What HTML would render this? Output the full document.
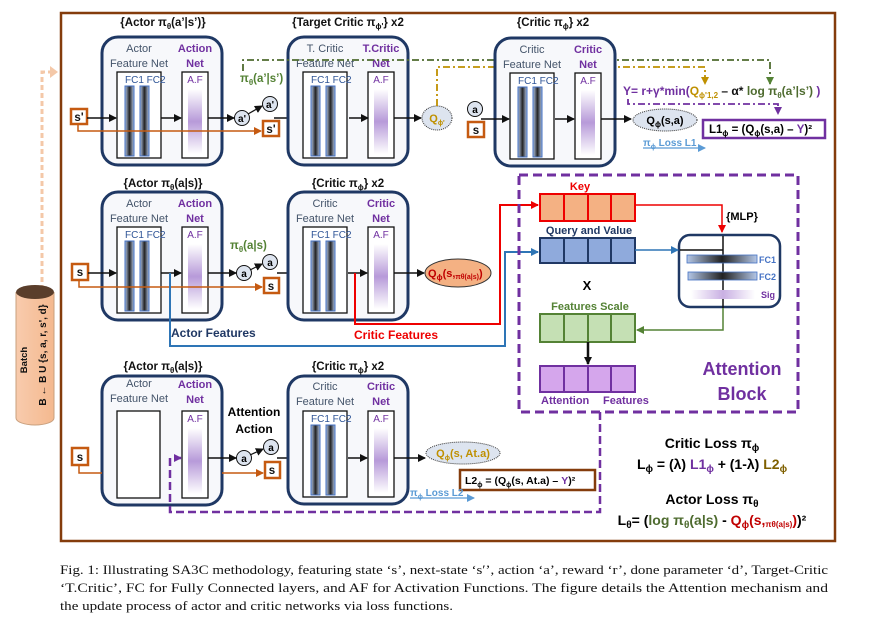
<!DOCTYPE html>
<html><head><meta charset="utf-8"><style>
html,body{margin:0;padding:0;background:#fff;width:870px;height:623px;overflow:hidden}
svg{display:block}
text{font-family:"Liberation Sans",sans-serif;font-weight:bold}
.t{font-size:11.5px;fill:#111}
.g{font-size:11px;fill:#44546a;font-weight:normal}
.p{font-size:11px;fill:#7030a0}
.fc{font-size:10px;fill:#2f5597;font-weight:normal}
.af{font-size:10px;fill:#7030a0;font-weight:normal}
.cap{font-family:"Liberation Serif",serif;font-weight:normal;font-size:13px;fill:#111}
</style></head><body>
<svg width="870" height="623" viewBox="0 0 870 623" xmlns="http://www.w3.org/2000/svg">
<defs>
<linearGradient id="fcg" x1="0" x2="1" y1="0" y2="0"><stop offset="0" stop-color="#b4c7e7"/><stop offset="0.5" stop-color="#222"/><stop offset="1" stop-color="#b4c7e7"/></linearGradient>
<linearGradient id="afg" x1="0" x2="0" y1="0" y2="1"><stop offset="0" stop-color="#fff"/><stop offset="0.5" stop-color="#b79ad9"/><stop offset="1" stop-color="#fff"/></linearGradient>
<linearGradient id="hb" x1="0" x2="1"><stop offset="0" stop-color="#b4c7e7"/><stop offset="0.5" stop-color="#222"/><stop offset="1" stop-color="#b4c7e7"/></linearGradient>
<linearGradient id="sg" x1="0" x2="1"><stop offset="0" stop-color="#fff"/><stop offset="0.5" stop-color="#c9b0e3"/><stop offset="1" stop-color="#fff"/></linearGradient>
<linearGradient id="cyl" x1="0" x2="1"><stop offset="0" stop-color="#f8cbad"/><stop offset="1" stop-color="#f4b98f"/></linearGradient>
<marker id="ab" markerWidth="8" markerHeight="8" refX="7" refY="4" orient="auto" markerUnits="userSpaceOnUse"><path d="M0,0 L8,4 L0,8z" fill="#111"/></marker>
<marker id="ao" markerWidth="8" markerHeight="8" refX="7" refY="4" orient="auto" markerUnits="userSpaceOnUse"><path d="M0,0 L8,4 L0,8z" fill="#c55a11"/></marker>
<marker id="ar" markerWidth="8" markerHeight="8" refX="7" refY="4" orient="auto" markerUnits="userSpaceOnUse"><path d="M0,0 L8,4 L0,8z" fill="#e00"/></marker>
<marker id="abl" markerWidth="8" markerHeight="8" refX="7" refY="4" orient="auto" markerUnits="userSpaceOnUse"><path d="M0,0 L8,4 L0,8z" fill="#2e75b6"/></marker>
<marker id="ag" markerWidth="8" markerHeight="8" refX="7" refY="4" orient="auto" markerUnits="userSpaceOnUse"><path d="M0,0 L8,4 L0,8z" fill="#548235"/></marker>
<marker id="ay" markerWidth="8" markerHeight="8" refX="7" refY="4" orient="auto" markerUnits="userSpaceOnUse"><path d="M0,0 L8,4 L0,8z" fill="#bf9000"/></marker>
<marker id="ap" markerWidth="8" markerHeight="8" refX="7" refY="4" orient="auto" markerUnits="userSpaceOnUse"><path d="M0,0 L8,4 L0,8z" fill="#7030a0"/></marker>
<marker id="alb" markerWidth="8" markerHeight="8" refX="7" refY="4" orient="auto" markerUnits="userSpaceOnUse"><path d="M0,0 L8,4 L0,8z" fill="#5b9bd5"/></marker>
<g id="bars">
<rect x="23" y="49" width="9" height="70" fill="url(#fcg)" stroke="#4472c4" stroke-width="1"/>
<rect x="38" y="49" width="9" height="70" fill="url(#fcg)" stroke="#4472c4" stroke-width="1"/>
</g>
<g id="shell">
<rect x="0" y="0" width="120" height="128" rx="16" fill="#f7f8fb" stroke="#1f3864" stroke-width="3"/>
<rect x="15" y="35" width="44" height="86" fill="#fff" stroke="#111" stroke-width="1.3"/>
<rect x="80" y="35" width="26" height="86" fill="#fff" stroke="#111" stroke-width="1.3"/>
<rect x="86" y="52" width="14" height="65" fill="url(#afg)"/>
<text x="93" y="46" class="af" text-anchor="middle">A.F</text>
</g>
</defs>

<rect x="61" y="13" width="774" height="528" fill="#fff" stroke="#843c0c" stroke-width="2.5"/>

<path d="M42,290 V72 H55" fill="none" stroke="#f4c8a8" stroke-width="3" stroke-dasharray="5,3"/>
<path d="M50,66 L58,72 L50,78z" fill="#f4c8a8"/>
<path d="M16,292 L16,418 A19,7 0 0 0 54,418 L54,292" fill="url(#cyl)" stroke="#c9a07e"/>
<ellipse cx="35" cy="292" rx="19" ry="7" fill="#5a3e2b"/>
<text transform="translate(27,360) rotate(-90)" font-size="9.5" text-anchor="middle" fill="#111">Batch</text>
<text transform="translate(46,355) rotate(-90)" font-size="10" text-anchor="middle" fill="#111">B ← B U {s, a, r, s', d}</text>

<!-- Row 1 -->
<text x="163" y="26" class="t" text-anchor="middle">{Actor π<tspan font-size="8" dy="3">θ</tspan><tspan dy="-3">(a’|s’)}</tspan></text>
<g transform="translate(102,37)"><use href="#shell"/><use href="#bars"/>
<text x="37" y="15" class="g" text-anchor="middle">Actor</text><text x="37" y="30" class="g" text-anchor="middle">Feature Net</text>
<text x="93" y="15" class="p" text-anchor="middle">Action</text><text x="93" y="30" class="p" text-anchor="middle">Net</text>
<text x="23" y="46" class="fc">FC1 FC2</text></g>
<rect x="71" y="109" width="16" height="15" fill="#fff" stroke="#c55a11" stroke-width="2.5"/><text x="79" y="121" class="t" text-anchor="middle">s'</text>
<line x1="87" y1="118" x2="116" y2="118" stroke="#111" stroke-width="1.5" marker-end="url(#ab)"/>
<line x1="161" y1="118" x2="181" y2="118" stroke="#111" stroke-width="1.5" marker-end="url(#ab)"/>
<line x1="208" y1="118" x2="234" y2="118" stroke="#111" stroke-width="1.5" marker-end="url(#ab)"/>
<path d="M78,124 V131 H222 M222,131 H261" fill="none" stroke="#c55a11" stroke-width="1.5" marker-end="url(#ao)"/>
<circle cx="242" cy="118" r="7.5" fill="#dde4ef" stroke="#111"/><text x="242" y="122" font-size="10" text-anchor="middle">a'</text>
<circle cx="270" cy="104" r="7.5" fill="#dde4ef" stroke="#111"/><text x="270" y="108" font-size="10" text-anchor="middle">a'</text>
<line x1="248" y1="114" x2="262" y2="106" stroke="#111" stroke-width="1.2" marker-end="url(#ab)"/>
<rect x="263" y="121" width="16" height="15" fill="#fff" stroke="#c55a11" stroke-width="2.5"/><text x="271" y="133" class="t" text-anchor="middle">s'</text>
<text x="240" y="82" font-size="11.5" fill="#548235">π<tspan font-size="8" dy="3">θ</tspan><tspan dy="-3">(a’|s’)</tspan></text>
<line x1="274" y1="118" x2="302" y2="118" stroke="#111" stroke-width="1.5" marker-end="url(#ab)"/>

<text x="348" y="26" class="t" text-anchor="middle">{Target Critic π<tspan font-size="8" dy="3">ϕ'</tspan><tspan dy="-3">} x2</tspan></text>
<g transform="translate(288,37)"><use href="#shell"/><use href="#bars"/>
<text x="37" y="15" class="g" text-anchor="middle">T. Critic</text><text x="37" y="30" class="g" text-anchor="middle">Feature Net</text>
<text x="93" y="15" class="p" text-anchor="middle">T.Critic</text><text x="93" y="30" class="p" text-anchor="middle">Net</text>
<text x="23" y="46" class="fc">FC1 FC2</text></g>
<line x1="349" y1="118" x2="368" y2="118" stroke="#111" stroke-width="1.5" marker-end="url(#ab)"/>
<line x1="394" y1="118" x2="421" y2="118" stroke="#111" stroke-width="1.5" marker-end="url(#ab)"/>
<ellipse cx="437" cy="118" rx="15" ry="12" fill="#dde4ef" stroke="#333" stroke-dasharray="1,1"/>
<text x="437" y="122" font-size="11" fill="#bf9000" text-anchor="middle">Q<tspan font-size="7" dy="3">ϕ'</tspan></text>
<path d="M243,71 V60 H770 V84" fill="none" stroke="#4e6b2f" stroke-width="1.8" stroke-dasharray="7,3,2,3" marker-end="url(#ag)"/>
<path d="M437,106 V67 H705 V84" fill="none" stroke="#bf9000" stroke-width="1.8" stroke-dasharray="7,3,2,3" marker-end="url(#ay)"/>

<circle cx="475" cy="109" r="7.5" fill="#dde4ef" stroke="#111"/><text x="475" y="113" font-size="10" text-anchor="middle">a</text>
<rect x="468" y="122" width="16" height="15" fill="#fff" stroke="#c55a11" stroke-width="2.5"/><text x="476" y="134" class="t" text-anchor="middle">s</text>
<text x="553" y="26" class="t" text-anchor="middle">{Critic π<tspan font-size="8" dy="3">ϕ</tspan><tspan dy="-3">} x2</tspan></text>
<g transform="translate(495,38)"><use href="#shell"/><use href="#bars"/>
<text x="37" y="15" class="g" text-anchor="middle">Critic</text><text x="37" y="30" class="g" text-anchor="middle">Feature Net</text>
<text x="93" y="15" class="p" text-anchor="middle">Critic</text><text x="93" y="30" class="p" text-anchor="middle">Net</text>
<text x="23" y="46" class="fc">FC1 FC2</text></g>
<line x1="481" y1="119" x2="509" y2="119" stroke="#111" stroke-width="1.5" marker-end="url(#ab)"/>
<line x1="555" y1="119" x2="574" y2="119" stroke="#111" stroke-width="1.5" marker-end="url(#ab)"/>
<line x1="601" y1="119" x2="631" y2="119" stroke="#111" stroke-width="1.5" marker-end="url(#ab)"/>
<ellipse cx="665" cy="120" rx="32" ry="11" fill="#dde4ef" stroke="#333" stroke-dasharray="1,1"/>
<text x="665" y="124" font-size="11" text-anchor="middle">Q<tspan font-size="8" dy="3">ϕ</tspan><tspan dy="-3">(s,a)</tspan></text>
<text x="623" y="95" font-size="12" fill="#7030a0">Y= r+γ*min(<tspan fill="#bf9000">Q<tspan font-size="8" dy="3">ϕ'1,2</tspan></tspan><tspan dy="-3" fill="#111"> – α* </tspan><tspan fill="#4e6b2f">log π<tspan font-size="8" dy="3">θ</tspan><tspan dy="-3">(a’|s’)</tspan></tspan> )</text>
<path d="M628,99 V104 H778 V114" fill="none" stroke="#7030a0" stroke-width="1.8" stroke-dasharray="7,3,2,3" marker-end="url(#ap)"/>
<rect x="703" y="120" width="122" height="18" fill="#fff" stroke="#7030a0" stroke-width="2.5"/>
<text x="709" y="133" font-size="11.5">L1<tspan font-size="8" dy="3">ϕ</tspan><tspan dy="-3"> = (Q</tspan><tspan font-size="8" dy="3">ϕ</tspan><tspan dy="-3">(s,a) – </tspan><tspan fill="#7030a0">Y</tspan>)²</text>
<text x="643" y="146" font-size="10" fill="#5b9bd5">π<tspan font-size="7" dy="3">ϕ</tspan><tspan dy="-3"> Loss L1</tspan></text>
<line x1="643" y1="148" x2="705" y2="148" stroke="#5b9bd5" stroke-width="1.2" marker-end="url(#alb)"/>

<!-- Row 2 -->
<text x="163" y="187" class="t" text-anchor="middle">{Actor π<tspan font-size="8" dy="3">θ</tspan><tspan dy="-3">(a|s)}</tspan></text>
<g transform="translate(102,192)"><use href="#shell"/><use href="#bars"/>
<text x="37" y="15" class="g" text-anchor="middle">Actor</text><text x="37" y="30" class="g" text-anchor="middle">Feature Net</text>
<text x="93" y="15" class="p" text-anchor="middle">Action</text><text x="93" y="30" class="p" text-anchor="middle">Net</text>
<text x="23" y="46" class="fc">FC1 FC2</text></g>
<rect x="72" y="264" width="16" height="16" fill="#fff" stroke="#c55a11" stroke-width="2.5"/><text x="80" y="276" class="t" text-anchor="middle">s</text>
<line x1="88" y1="273" x2="116" y2="273" stroke="#111" stroke-width="1.5" marker-end="url(#ab)"/>
<line x1="161" y1="273" x2="181" y2="273" stroke="#111" stroke-width="1.5" marker-end="url(#ab)"/>
<line x1="208" y1="273" x2="236" y2="273" stroke="#111" stroke-width="1.5" marker-end="url(#ab)"/>
<path d="M79,280 V287 H222 M222,287 H262" fill="none" stroke="#c55a11" stroke-width="1.5" marker-end="url(#ao)"/>
<circle cx="244" cy="273" r="7.5" fill="#dde4ef" stroke="#111"/><text x="244" y="277" font-size="10" text-anchor="middle">a</text>
<circle cx="270" cy="262" r="7.5" fill="#dde4ef" stroke="#111"/><text x="270" y="266" font-size="10" text-anchor="middle">a</text>
<line x1="250" y1="270" x2="262" y2="264" stroke="#111" stroke-width="1.2" marker-end="url(#ab)"/>
<rect x="264" y="278" width="15" height="15" fill="#fff" stroke="#c55a11" stroke-width="2.5"/><text x="271" y="290" class="t" text-anchor="middle">s</text>
<text x="230" y="249" font-size="11.5" fill="#548235">π<tspan font-size="8" dy="3">θ</tspan><tspan dy="-3">(a|s)</tspan></text>
<line x1="277" y1="273" x2="302" y2="273" stroke="#111" stroke-width="1.5" marker-end="url(#ab)"/>
<text x="348" y="187" class="t" text-anchor="middle">{Critic π<tspan font-size="8" dy="3">ϕ</tspan><tspan dy="-3">} x2</tspan></text>
<g transform="translate(288,192)"><use href="#shell"/><use href="#bars"/>
<text x="37" y="15" class="g" text-anchor="middle">Critic</text><text x="37" y="30" class="g" text-anchor="middle">Feature Net</text>
<text x="93" y="15" class="p" text-anchor="middle">Critic</text><text x="93" y="30" class="p" text-anchor="middle">Net</text>
<text x="23" y="46" class="fc">FC1 FC2</text></g>
<line x1="348" y1="273" x2="367" y2="273" stroke="#111" stroke-width="1.5" marker-end="url(#ab)"/>
<line x1="394" y1="273" x2="424" y2="273" stroke="#111" stroke-width="1.5" marker-end="url(#ab)"/>
<ellipse cx="458" cy="273" rx="33" ry="14" fill="#f4b183" stroke="#333"/>
<text x="428" y="277" font-size="11" fill="#c00000">Q<tspan font-size="8" dy="3">ϕ</tspan><tspan dy="-3">(s,</tspan><tspan font-size="7" dy="2">πθ(a|s)</tspan><tspan dy="-2">)</tspan></text>
<path d="M170,273 V346 H505 V252 H538" fill="none" stroke="#2e75b6" stroke-width="2" marker-end="url(#abl)"/>
<path d="M355,273 V324 H500 V205 H538" fill="none" stroke="#e00" stroke-width="2" marker-end="url(#ar)"/>
<text x="171" y="337" font-size="12" fill="#203864">Actor Features</text>
<text x="354" y="339" font-size="12" fill="#e00">Critic Features</text>

<!-- Attention block -->
<rect x="519" y="175" width="279" height="237" fill="none" stroke="#7030a0" stroke-width="3" stroke-dasharray="9,5"/>
<text x="580" y="190" font-size="11" fill="#e00" text-anchor="middle">Key</text>
<g stroke="#e00" stroke-width="2" fill="#f4b183"><rect x="540" y="194" width="95" height="27"/><line x1="564" y1="194" x2="564" y2="221"/><line x1="588" y1="194" x2="588" y2="221"/><line x1="611" y1="194" x2="611" y2="221"/></g>
<text x="589" y="234" font-size="11" fill="#203864" font-weight="normal" text-anchor="middle">Query and Value</text>
<g stroke="#203864" stroke-width="2" fill="#8faadc"><rect x="540" y="238" width="95" height="25"/><line x1="564" y1="238" x2="564" y2="263"/><line x1="588" y1="238" x2="588" y2="263"/><line x1="611" y1="238" x2="611" y2="263"/></g>
<path d="M635,205 H722 V232" fill="none" stroke="#e00" stroke-width="1.5" marker-end="url(#ar)"/>
<text x="742" y="220" font-size="11" font-weight="normal" text-anchor="middle">{MLP}</text>
<rect x="679" y="235" width="101" height="72" rx="11" fill="#fff" stroke="#1f3864" stroke-width="2.5"/>
<line x1="635" y1="250" x2="678" y2="250" stroke="#2e75b6" stroke-width="1.5" marker-end="url(#abl)"/>
<line x1="680" y1="250" x2="723" y2="250" stroke="#111" stroke-width="1.5"/>
<line x1="723" y1="236" x2="723" y2="308" stroke="#111" stroke-width="1.5"/>
<rect x="687" y="255" width="70" height="8" fill="url(#hb)" stroke="#4472c4" stroke-width="0.8"/>
<rect x="688" y="272" width="69" height="8" fill="url(#hb)" stroke="#4472c4" stroke-width="0.8"/>
<rect x="691" y="290" width="64" height="9" fill="url(#sg)"/>
<text x="759" y="263" font-size="9" fill="#4472c4" font-weight="normal">FC1</text>
<text x="759" y="280" font-size="9" fill="#4472c4" font-weight="normal">FC2</text>
<text x="761" y="298" font-size="9" fill="#7030a0">Sig</text>
<path d="M723,308 V330 H637" fill="none" stroke="#548235" stroke-width="1.5" marker-end="url(#ag)"/>
<text x="587" y="290" font-size="13" text-anchor="middle">X</text>
<text x="590" y="310" font-size="11" fill="#548235" font-weight="normal" text-anchor="middle">Features Scale</text>
<g stroke="#548235" stroke-width="2" fill="#c5e0b4"><rect x="540" y="314" width="95" height="28"/><line x1="564" y1="314" x2="564" y2="342"/><line x1="588" y1="314" x2="588" y2="342"/><line x1="611" y1="314" x2="611" y2="342"/></g>
<line x1="588" y1="342" x2="588" y2="364" stroke="#111" stroke-width="2.5" marker-end="url(#ab)"/>
<g stroke="#7030a0" stroke-width="2" fill="#d5a6ec"><rect x="540" y="366" width="95" height="26"/><line x1="564" y1="366" x2="564" y2="392"/><line x1="588" y1="366" x2="588" y2="392"/><line x1="611" y1="366" x2="611" y2="392"/></g>
<text x="541" y="404" font-size="11" fill="#7030a0" font-weight="normal">Attention</text>
<text x="603" y="404" font-size="11" fill="#7030a0" font-weight="normal">Features</text>
<text x="742" y="375" font-size="18" fill="#7030a0" font-weight="normal" text-anchor="middle">Attention</text>
<text x="742" y="400" font-size="18" fill="#7030a0" font-weight="normal" text-anchor="middle">Block</text>

<!-- Row 3 -->
<text x="163" y="370" class="t" text-anchor="middle">{Actor π<tspan font-size="8" dy="3">θ</tspan><tspan dy="-3">(a|s)}</tspan></text>
<g transform="translate(102,376)">
<rect x="0" y="0" width="120" height="129" rx="16" fill="#f7f8fb" stroke="#1f3864" stroke-width="3"/>
<rect x="15" y="35" width="43" height="87" fill="#fff" stroke="#111" stroke-width="1.3"/>
<rect x="80" y="35" width="26" height="87" fill="#fff" stroke="#111" stroke-width="1.3"/>
<rect x="86" y="52" width="14" height="66" fill="url(#afg)"/>
<text x="93" y="46" class="af" text-anchor="middle">A.F</text>
<text x="37" y="11" class="g" text-anchor="middle">Actor</text><text x="37" y="26" class="g" text-anchor="middle">Feature Net</text>
<text x="93" y="12" class="p" text-anchor="middle">Action</text><text x="93" y="27" class="p" text-anchor="middle">Net</text></g>
<rect x="72" y="448" width="16" height="17" fill="#fff" stroke="#c55a11" stroke-width="2.5"/><text x="80" y="461" class="t" text-anchor="middle">s</text>
<path d="M79,465 V473 H102" fill="none" stroke="#c55a11" stroke-width="1.5"/>
<path d="M222,473 H263" fill="none" stroke="#c55a11" stroke-width="1.5" marker-end="url(#ao)"/>
<path d="M600,412 V512 H170 V458 H181" fill="none" stroke="#7030a0" stroke-width="2.5" stroke-dasharray="8,4" marker-end="url(#ap)"/>
<line x1="208" y1="458" x2="236" y2="458" stroke="#111" stroke-width="1.5" marker-end="url(#ab)"/>
<text x="254" y="416" font-size="12" text-anchor="middle">Attention</text>
<text x="254" y="433" font-size="12" text-anchor="middle">Action</text>
<circle cx="244" cy="458" r="7.5" fill="#dde4ef" stroke="#111"/><text x="244" y="462" font-size="10" text-anchor="middle">a</text>
<circle cx="271" cy="447" r="7.5" fill="#dde4ef" stroke="#111"/><text x="271" y="451" font-size="10" text-anchor="middle">a</text>
<line x1="250" y1="455" x2="263" y2="449" stroke="#111" stroke-width="1.2" marker-end="url(#ab)"/>
<rect x="265" y="462" width="15" height="16" fill="#fff" stroke="#c55a11" stroke-width="2.5"/><text x="272" y="474" class="t" text-anchor="middle">s</text>
<line x1="277" y1="458" x2="302" y2="458" stroke="#111" stroke-width="1.5" marker-end="url(#ab)"/>
<text x="348" y="370" class="t" text-anchor="middle">{Critic π<tspan font-size="8" dy="3">ϕ</tspan><tspan dy="-3">} x2</tspan></text>
<g transform="translate(288,376)"><use href="#shell"/><use href="#bars"/>
<text x="37" y="14" class="g" text-anchor="middle">Critic</text><text x="37" y="29" class="g" text-anchor="middle">Feature Net</text>
<text x="93" y="14" class="p" text-anchor="middle">Critic</text><text x="93" y="29" class="p" text-anchor="middle">Net</text>
<text x="23" y="46" class="fc">FC1 FC2</text></g>
<line x1="348" y1="458" x2="367" y2="458" stroke="#111" stroke-width="1.5" marker-end="url(#ab)"/>
<line x1="394" y1="458" x2="425" y2="458" stroke="#111" stroke-width="1.5" marker-end="url(#ab)"/>
<ellipse cx="463" cy="453" rx="37" ry="11" fill="#dde4ef" stroke="#333" stroke-dasharray="1,1"/>
<text x="463" y="457" font-size="11" fill="#bf9000" text-anchor="middle">Q<tspan font-size="7" dy="3">ϕ</tspan><tspan dy="-3">(s, At.a)</tspan></text>
<rect x="460" y="470" width="135" height="20" fill="#fff" stroke="#843c0c" stroke-width="2.5"/>
<text x="465" y="484" font-size="10.5">L2<tspan font-size="7" dy="3">ϕ</tspan><tspan dy="-3"> = (Q</tspan><tspan font-size="7" dy="3">ϕ</tspan><tspan dy="-3">(s, At.a) – </tspan><tspan fill="#7030a0">Y</tspan>)²</text>
<text x="410" y="496" font-size="10" fill="#5b9bd5">π<tspan font-size="7" dy="3">ϕ</tspan><tspan dy="-3"> Loss L2</tspan></text>
<line x1="410" y1="498" x2="474" y2="498" stroke="#5b9bd5" stroke-width="1.2" marker-end="url(#alb)"/>

<text x="712" y="448" font-size="14" text-anchor="middle">Critic Loss π<tspan font-size="10" dy="3">ϕ</tspan></text>
<text x="712" y="469" font-size="14" text-anchor="middle">L<tspan font-size="10" dy="3">ϕ</tspan><tspan dy="-3"> = (λ) </tspan><tspan fill="#7030a0">L1<tspan font-size="10" dy="3">ϕ</tspan></tspan><tspan dy="-3"> + (1-λ) </tspan><tspan fill="#7f6000">L2<tspan font-size="10" dy="3">ϕ</tspan></tspan></text>
<text x="712" y="504" font-size="14" text-anchor="middle">Actor Loss π<tspan font-size="10" dy="3">θ</tspan></text>
<text x="712" y="525" font-size="14" text-anchor="middle">L<tspan font-size="10" dy="3">θ</tspan><tspan dy="-3">= (</tspan><tspan fill="#4e6b2f">log π<tspan font-size="10" dy="3">θ</tspan><tspan dy="-3">(a|s)</tspan></tspan> - <tspan fill="#c00000">Q<tspan font-size="10" dy="3">ϕ</tspan><tspan dy="-3">(s,</tspan><tspan font-size="8" dy="2">πθ(a|s)</tspan><tspan dy="-2">)</tspan></tspan>)²</text>

<text x="60" y="574" class="cap" textLength="768" lengthAdjust="spacingAndGlyphs">Fig. 1: Illustrating SA3C methodology, featuring state ‘s’, next-state ‘s′’, action ‘a’, reward ‘r’, done parameter ‘d’, Target-Critic</text>
<text x="60" y="592" class="cap" textLength="768" lengthAdjust="spacingAndGlyphs">‘T.Critic’, FC for Fully Connected layers, and AF for Activation Functions. The figure details the Attention mechanism and</text>
<text x="60" y="610" class="cap" textLength="393" lengthAdjust="spacingAndGlyphs">the update process of actor and critic networks via loss functions.</text>
</svg>
</body></html>
